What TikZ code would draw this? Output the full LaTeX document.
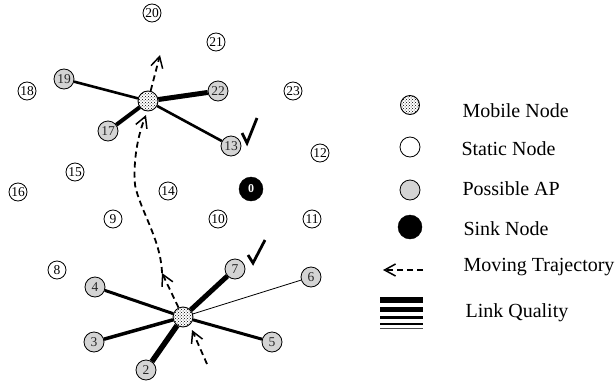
\documentclass[tikz,border=0pt]{standalone}
\usepackage{fontspec}
\setmainfont{Liberation Serif}
\usetikzlibrary{arrows.meta,patterns}
\definecolor{apgray}{HTML}{D4D4D4}
\begin{document}
\begin{tikzpicture}[x=1pt,y=-1pt,
  static/.style={circle,draw,line width=0.8pt,fill=white,minimum size=18pt,inner sep=0pt,font=\fontsize{13.5}{13.5}\selectfont},
  ap/.style={static,fill=apgray,minimum size=20pt,text=black!85},
  mobile/.style={circle,draw,line width=0.9pt,minimum size=20pt,inner sep=0pt,preaction={fill=white},pattern=crosshatch dots,pattern color=black},
  sink/.style={circle,fill=black,draw=black,minimum size=24pt,inner sep=0pt,text=white,font=\fontsize{12}{12}\selectfont\bfseries},
  traj/.style={dash pattern=on 6pt off 4pt,line width=1.8pt,-{Straight Barb[length=11pt,width=12pt,line width=1.5pt]}},
  check/.style={line width=2.8pt,line join=miter},
  legtext/.style={anchor=base west,font=\fontsize{20}{20}\selectfont}]
\useasboundingbox (0,0) rectangle (616,383);
% static nodes
\node[static] (n20) at (152,13) {20};
\node[static] (n21) at (216,42) {21};
\node[static] (n18) at (27,91) {18};
\node[static] (n23) at (293,91) {23};
\node[static] (n12) at (320,153) {12};
\node[static] (n15) at (75,172) {15};
\node[static] (n16) at (18,192) {16};
\node[static] (n14) at (168,191) {14};
\node[static] (n9) at (113,219) {9};
\node[static] (n10) at (218,219) {10};
\node[static] (n11) at (312,219) {11};
\node[static] (n8) at (57,270) {8};
% sink
\node[sink] (n0) at (251,189) {0};
% possible APs
\node[ap] (n19) at (64,79) {19};
\node[ap] (n22) at (218,91) {22};
\node[ap] (n17) at (108,131) {17};
\node[ap] (n13) at (231,146) {13};
\node[ap] (n7) at (235,269) {7};
\node[ap] (n6) at (311,277) {6};
\node[ap] (n4) at (95,287) {4};
\node[ap] (n3) at (94,342) {3};
\node[ap] (n5) at (272,342) {5};
\node[ap] (n2) at (146,370) {2};
% mobile nodes
\node[mobile] (mob2) at (148,101) {};
\node[mobile] (mob1) at (183,317) {};
% links top
\draw[line width=2.6pt] (mob2) -- (n19);
\draw[line width=5pt] (mob2) -- (n22);
\draw[line width=4pt] (mob2) -- (n17);
\draw[line width=2.6pt] (mob2) -- (n13);
% links bottom
\draw[line width=5pt] (mob1) -- (n7);
\draw[line width=0.8pt] (mob1) -- (n6);
\draw[line width=3pt] (mob1) -- (n4);
\draw[line width=3.5pt] (mob1) -- (n3);
\draw[line width=3pt] (mob1) -- (n5);
\draw[line width=5.5pt] (mob1) -- (n2);
% check marks
\draw[check] (242,133) -- (247,143) -- (257,118);
\draw[check] (248,255) -- (253,263) -- (265,240);
% trajectory
\coordinate (t0) at (207,364);
\coordinate (t1) at (192,330);
\coordinate (t2) at (162,273);
\coordinate (c1) at (135,185);
\coordinate (t3) at (146,115);
\coordinate (t4) at (160,55);
\draw[traj] (t0) -- (t1);
\draw[traj] (mob1) -- (t2);
\draw[traj] (t2) .. controls (161,240) and (140,210) .. (c1) .. controls (133,160) and (138,135) .. (t3);
\draw[traj] (mob2) -- (t4);
% legend
\node[mobile,minimum size=19pt] (lm) at (410,105) {};
\node[static,minimum size=20pt] (ls) at (410,147) {};
\node[ap] (la) at (410,190) {};
\node[sink] (lsk) at (410,227) {};
\coordinate (lt0) at (423,270);
\coordinate (lt1) at (383,270);
\draw[traj] (lt0) -- (lt1);
\draw[line width=6pt] (380,300) -- (423,300);
\draw[line width=4.5pt] (380,309.5) -- (423,309.5);
\draw[line width=3.5pt] (380,317.5) -- (423,317.5);
\draw[line width=2.5pt] (380,324) -- (423,324);
\draw[line width=1.2pt,black!70] (380,328.5) -- (423,328.5);
\node[legtext] (tm) at (459,117) {Mobile Node};
\node[legtext] (ts) at (458,155) {Static Node};
\node[legtext] (ta) at (459,195) {Possible AP};
\node[legtext] (tk) at (460,235) {Sink Node};
\node[legtext] (tt) at (460,271) {Moving Trajectory};
\node[legtext] (tq) at (462,317) {Link Quality};
\end{tikzpicture}
\end{document}
